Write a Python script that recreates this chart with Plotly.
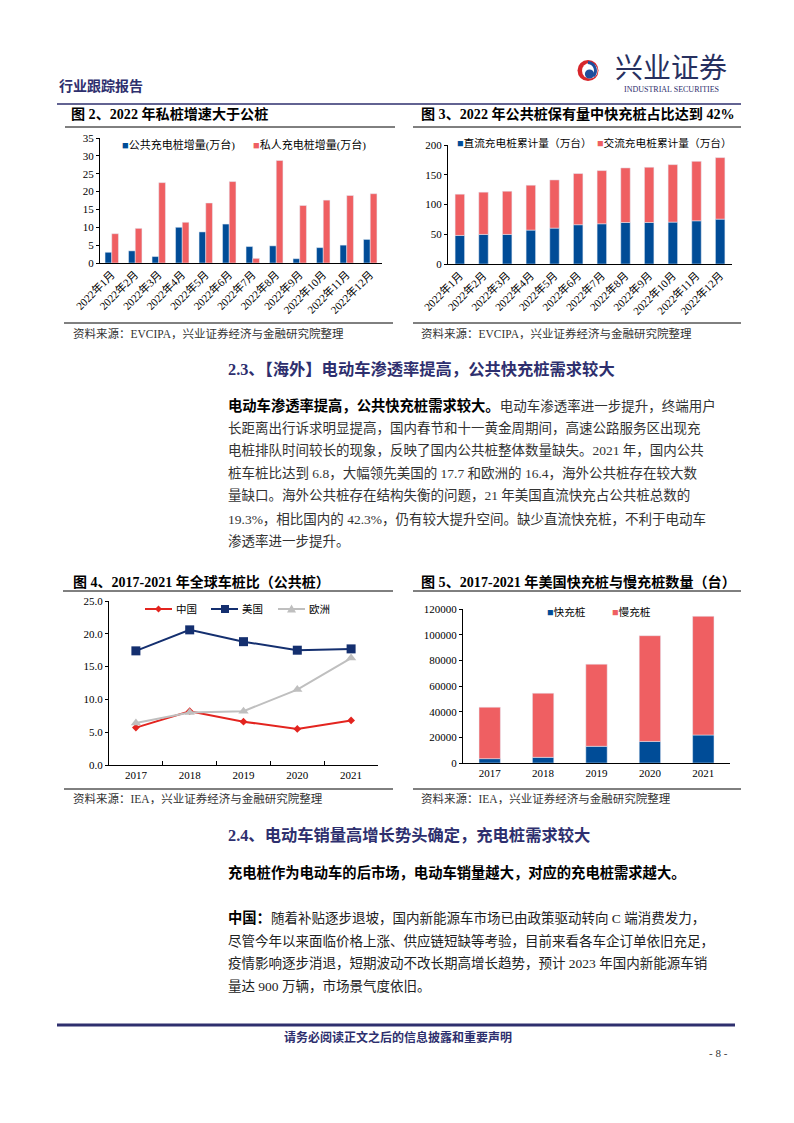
import plotly.graph_objects as go

W, H = 794, 1123
def X(p): return p / W
def Y(p): return 1 - p / H

# ---------------- data ----------------
months = ["2022年1月", "2022年2月", "2022年3月", "2022年4月", "2022年5月", "2022年6月",
          "2022年7月", "2022年8月", "2022年9月", "2022年10月", "2022年11月", "2022年12月"]
public_add = [3.0, 3.4, 1.8, 10.0, 8.7, 10.9, 4.6, 4.8, 1.2, 4.3, 5.0, 6.6]
private_add = [8.2, 9.7, 22.5, 11.4, 16.8, 22.8, 1.3, 28.7, 16.1, 17.6, 18.9, 19.4]

dc_cum = [48.0, 49.7, 49.7, 57.0, 60.3, 66.0, 67.6, 69.8, 69.8, 70.4, 72.6, 75.4]
ac_cum = [69.3, 71.0, 72.6, 75.4, 81.0, 86.0, 89.4, 91.7, 92.8, 96.6, 100.0, 103.4]

years = ["2017", "2018", "2019", "2020", "2021"]
ratio_cn = [5.7, 8.2, 6.6, 5.5, 6.8]
ratio_us = [17.4, 20.6, 18.8, 17.5, 17.7]
ratio_eu = [6.4, 8.0, 8.2, 11.5, 16.3]

us_fast = [3400, 4400, 13000, 16800, 21800]
us_slow = [40100, 50000, 64000, 82400, 92500]

# ---------------- styles ----------------
BLUE = "#004C97"
RED = "#EF5F62"
NAVY = "#2E2F6E"
CN_C, US_C, EU_C = "#E3241F", "#142F6F", "#BFBFBF"
SERIF = "Liberation Serif, Noto Sans CJK SC"
TXT = "#333333"

fig = go.Figure()

# Chart 1: grouped bars
fig.add_trace(go.Bar(x=months, y=public_add, marker_color=BLUE, width=0.285, offset=-0.285,
                     xaxis="x", yaxis="y", name="公共充电桩增量(万台)"))
fig.add_trace(go.Bar(x=months, y=private_add, marker_color=RED, width=0.285, offset=0,
                     xaxis="x", yaxis="y", name="私人充电桩增量(万台)"))

# Chart 2: stacked bars
fig.add_trace(go.Bar(x=months, y=dc_cum, marker_color=BLUE, width=0.4, offset=-0.2,
                     xaxis="x2", yaxis="y2", name="直流充电桩累计量（万台）"))
fig.add_trace(go.Bar(x=months, y=ac_cum, base=dc_cum, marker_color=RED, width=0.4, offset=-0.2,
                     xaxis="x2", yaxis="y2", name="交流充电桩累计量（万台）"))

# Chart 3: lines
fig.add_trace(go.Scatter(x=years, y=ratio_cn, name="中国", mode="lines+markers",
                         line=dict(color=CN_C, width=2),
                         marker=dict(symbol="diamond", size=6, color=CN_C),
                         xaxis="x3", yaxis="y3"))
fig.add_trace(go.Scatter(x=years, y=ratio_us, name="美国", mode="lines+markers",
                         line=dict(color=US_C, width=2),
                         marker=dict(symbol="square", size=9, color=US_C),
                         xaxis="x3", yaxis="y3"))
fig.add_trace(go.Scatter(x=years, y=ratio_eu, name="欧洲", mode="lines+markers",
                         line=dict(color=EU_C, width=2),
                         marker=dict(symbol="triangle-up", size=9, color=EU_C),
                         xaxis="x3", yaxis="y3"))

# Chart 4: stacked bars
fig.add_trace(go.Bar(x=years, y=us_fast, marker_color=BLUE, width=0.4, offset=-0.2,
                     xaxis="x4", yaxis="y4", name="快充桩"))
fig.add_trace(go.Bar(x=years, y=us_slow, base=us_fast, marker_color=RED, width=0.4, offset=-0.2,
                     xaxis="x4", yaxis="y4", name="慢充桩"))

tickfont = dict(family=SERIF, size=11, color="black")
def xax(dom, n, angle=0, ticks="", tickson=None, anchor="y"):
    d = dict(domain=[X(dom[0]), X(dom[1])], anchor=anchor, type="category",
             range=[-0.5, n - 0.5], showline=True, linecolor="black", linewidth=1,
             ticks=ticks, tickangle=angle, tickfont=tickfont, showgrid=False,
             fixedrange=True, automargin=False)
    if tickson:
        d.update(tickson=tickson, ticklen=4, tickcolor="black")
    return d

def yax(dom, rng, dtick, anchor, fmt=None):
    d = dict(domain=[Y(dom[0]), Y(dom[1])], anchor=anchor, range=rng, dtick=dtick,
             showline=True, linecolor="black", linewidth=1, ticks="outside",
             ticklen=3, tickcolor="black", tickfont=tickfont, showgrid=False,
             zeroline=False, fixedrange=True, automargin=False)
    if fmt:
        d["tickformat"] = fmt
    return d

fig.update_layout(
    width=W, height=H, margin=dict(l=0, r=0, t=0, b=0, pad=0, autoexpand=False),
    paper_bgcolor="white", plot_bgcolor="white",
    barmode="group", showlegend=False,
    xaxis=xax((100, 382), 12, angle=-45, anchor="y"),
    yaxis=yax((263, 138), [0, 35], 5, "x"),
    xaxis2=xax((448, 732), 12, angle=-45, anchor="y2"),
    yaxis2=yax((264, 145), [0, 200], 50, "x2"),
    xaxis3=xax((109, 378), 5, ticks="inside", tickson="boundaries", anchor="y3"),
    yaxis3=yax((765, 601), [0, 25], 5, "x3", fmt=".1f"),
    xaxis4=xax((463, 730), 5, anchor="y4"),
    yaxis4=yax((763, 609), [0, 120000], 20000, "x4", fmt="d"),
)

anns = []
def ann(x, y, text, size=14, color=TXT, xanchor="left", family=SERIF):
    anns.append(dict(x=X(x), y=Y(y), xref="paper", yref="paper", text=text,
                     showarrow=False, xanchor=xanchor, yanchor="middle",
                     borderpad=0, font=dict(family=family, size=size, color=color)))

def sq(c):
    return f"<span style='color:{c}'>■</span>"

def boldlead(t):
    return f"<b><span style='color:#000;font-size:14.3px'>{t}</span></b>"

# header
ann(58, 86, "<b>行业跟踪报告</b>", 14, NAVY)
ann(671, 69, "兴业证券", 28, "#27305F", "center")
ann(671, 90, "INDUSTRIAL SECURITIES", 8, NAVY, "center")

# figure titles
ann(70, 114, "<b>图 2、2022 年私桩增速大于公桩</b>", 14.1, "black")
ann(420, 114, "<b>图 3、2022 年公共桩保有量中快充桩占比达到 42%</b>", 14.1, "black")
ann(72, 582, "<b>图 4、2017-2021 年全球车桩比（公共桩）</b>", 14, "black")
ann(420, 582, "<b>图 5、2017-2021 年美国快充桩与慢充桩数量（台）</b>", 14.1, "black")

# bar legends
ann(121, 145, sq(BLUE) + "公共充电桩增量(万台)", 11, "black")
ann(252, 145, sq(RED) + "私人充电桩增量(万台)", 11, "black")
ann(456, 143, sq(BLUE) + "直流充电桩累计量（万台）", 10.7, "black")
ann(596, 143, sq(RED) + "交流充电桩累计量（万台）", 10.7, "black")
ann(546, 612, sq(BLUE) + "快充桩", 10.7, "black")
ann(611, 612, sq(RED) + "慢充桩", 10.7, "black")

# line legend texts
ann(175, 609, "中国", 10.5, "black")
ann(241, 609, "美国", 10.5, "black")
ann(308, 609, "欧洲", 10.5, "black")

# sources
src = "资料来源：EVCIPA，兴业证券经济与金融研究院整理"
ann(72, 333, src, 11.5, TXT)
ann(420, 333, src, 11.5, TXT)
src2 = "资料来源：IEA，兴业证券经济与金融研究院整理"
ann(72, 798, src2, 11.5, TXT)
ann(420, 798, src2, 11.5, TXT)

# section 2.3
ann(227, 369, "<b>2.3、【海外】电动车渗透率提高，公共快充桩需求较大</b>", 16.3, NAVY)
p1 = [
    boldlead("电动车渗透率提高，公共快充桩需求较大。") + "电动车渗透率进一步提升，终端用户",
    "长距离出行诉求明显提高，国内春节和十一黄金周期间，高速公路服务区出现充",
    "电桩排队时间较长的现象，反映了国内公共桩整体数量缺失。2021 年，国内公共",
    "桩车桩比达到 6.8，大幅领先美国的 17.7 和欧洲的 16.4，海外公共桩存在较大数",
    "量缺口。海外公共桩存在结构失衡的问题，21 年美国直流快充占公共桩总数的",
    "19.3%，相比国内的 42.3%，仍有较大提升空间。缺少直流快充桩，不利于电动车",
    "渗透率进一步提升。",
]
for i, t in enumerate(p1):
    ann(227, 405 + i * 22.7, t, 13.5, TXT)

# section 2.4
ann(227, 835, "<b>2.4、电动车销量高增长势头确定，充电桩需求较大</b>", 16.3, NAVY)
ann(227, 872, "<b>充电桩作为电动车的后市场，电动车销量越大，对应的充电桩需求越大。</b>", 14.3, "black")
p2 = [
    boldlead("中国：") + "随着补贴逐步退坡，国内新能源车市场已由政策驱动转向 C 端消费发力，",
    "尽管今年以来面临价格上涨、供应链短缺等考验，目前来看各车企订单依旧充足，",
    "疫情影响逐步消退，短期波动不改长期高增长趋势，预计 2023 年国内新能源车销",
    "量达 900 万辆，市场景气度依旧。",
]
for i, t in enumerate(p2):
    ann(227, 918 + i * 22.5, t, 13.5, "#222222")

# footer
ann(398, 1037, "<b>请务必阅读正文之后的信息披露和重要声明</b>", 12, NAVY, "center")
ann(718, 1053, "- 8 -", 11, TXT, "center")

fig.update_layout(annotations=anns)

shapes = []
def hline(x0, x1, y, color="black", width=1):
    shapes.append(dict(type="line", xref="paper", yref="paper", x0=X(x0), x1=X(x1),
                       y0=Y(y), y1=Y(y), line=dict(color=color, width=width)))

def circle(cx, cy, r, color):
    shapes.append(dict(type="circle", xref="paper", yref="paper",
                       x0=X(cx - r), x1=X(cx + r), y0=Y(cy + r), y1=Y(cy - r),
                       fillcolor=color, line=dict(width=0)))

def poly(pts, color):
    path = "M" + " L".join(f"{X(a)},{Y(b)}" for a, b in pts) + " Z"
    shapes.append(dict(type="path", xref="paper", yref="paper", path=path,
                       fillcolor=color, line=dict(width=0)))

hline(57, 741, 104, NAVY, 1.5)
hline(65, 395, 127)
hline(413, 741, 127)
hline(64, 393, 323)
hline(413, 741, 323)
hline(63, 393, 591)
hline(413, 741, 591)
hline(64, 393, 789)
hline(413, 741, 789)
hline(57, 735, 1025, NAVY, 3)

# line-chart legend keys
hline(145, 172, 609, CN_C, 2)
poly([(158.5, 605.5), (162, 609), (158.5, 612.5), (155, 609)], CN_C)
hline(211, 238, 609, US_C, 2)
poly([(221, 605), (229, 605), (229, 613), (221, 613)], US_C)
hline(278, 305, 609, EU_C, 2)
poly([(291.5, 604.5), (296, 612.5), (287, 612.5)], EU_C)

# logo
circle(588, 70.5, 10.5, "#D7262B")
circle(589.8, 70.8, 7.8, "white")
circle(589.5, 74, 4.6, "#1F4E9C")
pts = [(588, 62.5), (596.5, 63.5), (597, 73), (593, 76)]
path = "M{},{} C{},{} {},{} {},{}".format(*[v for p in pts for v in (X(p[0]), Y(p[1]))])
shapes.append(dict(type="path", xref="paper", yref="paper", path=path,
                   line=dict(color="#1F4E9C", width=3)))

fig.update_layout(shapes=shapes)

fig.write_html("out.html")
